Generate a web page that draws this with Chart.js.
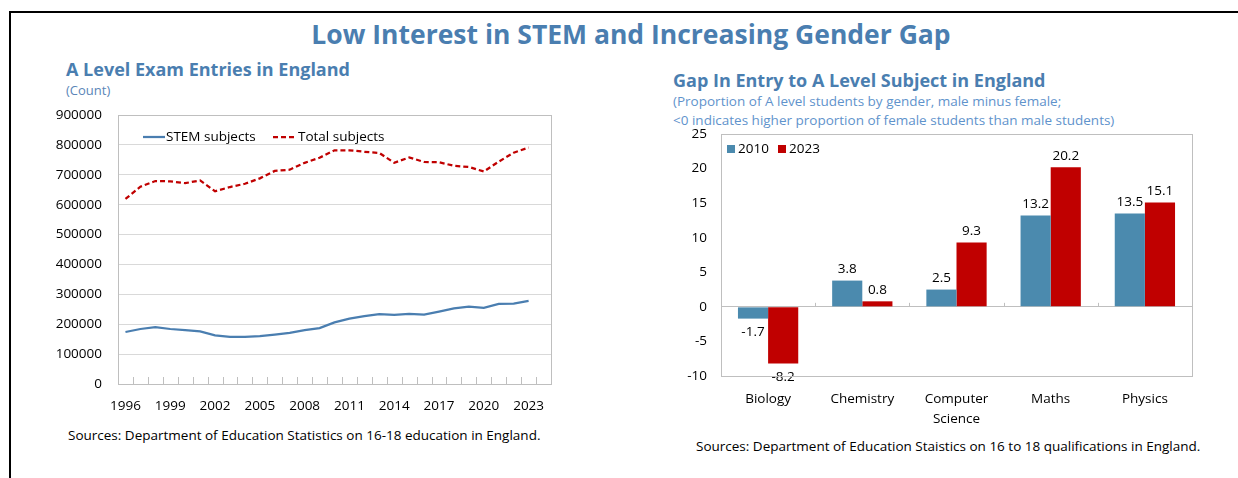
<!DOCTYPE html>
<html>
<head>
<meta charset="utf-8">
<script src="https://cdn.jsdelivr.net/npm/chart.js@4/dist/chart.umd.min.js"></script>
<style>
  html, body { margin:0; padding:0; background:#fff; }
  body { width:1238px; height:478px; position:relative; overflow:hidden; font-family:"Open Sans", "Noto Sans", sans-serif; }
  .frameTop { position:absolute; left:9px; top:11px; width:1229px; height:2px; background:#000; }
  .frameLeft { position:absolute; left:9px; top:11px; width:2px; height:467px; background:#000; }
  .t { position:absolute; white-space:nowrap; line-height:1; }
  #title { left:0; width:1262px; text-align:center; top:21px; font-size:26.5px; font-weight:700; color:#4a7eb0; }
  #lsub { left:66px; top:60px; font-size:18px; font-weight:700; color:#4a7eb0; }
  #lunit { left:66px; top:84px; font-size:13px; color:#5a86b8; }
  #rsub { left:673px; top:71px; font-size:18px; font-weight:700; color:#4a7eb0; }
  #rnote1 { left:673px; top:95px; font-size:13.5px; color:#5f93cc; }
  #rnote2 { left:673px; top:114px; font-size:13.5px; color:#5f93cc; }
  #lsrc { left:68px; top:429px; font-size:13.5px; color:#000; }
  #rsrc { left:696px; top:440px; font-size:13.5px; color:#000; }
  canvas { position:absolute; }
</style>
</head>
<body>
<div class="frameTop"></div>
<div class="frameLeft"></div>
<div class="t" id="title">Low Interest in STEM and Increasing Gender Gap</div>
<div class="t" id="lsub">A Level Exam Entries in England</div>
<div class="t" id="lunit">(Count)</div>
<div class="t" id="rsub">Gap In Entry to A Level Subject in England</div>
<div class="t" id="rnote1">(Proportion of A level students by gender, male minus female;</div>
<div class="t" id="rnote2">&lt;0 indicates higher proportion of female students than male students)</div>
<div class="t" id="lsrc">Sources: Department of Education Statistics on 16-18 education in England.</div>
<div class="t" id="rsrc">Sources: Department of Education Staistics on 16 to 18 qualifications in England.</div>
<canvas id="lineChart" width="600" height="330" style="left:0;top:100px;width:600px;height:330px;"></canvas>
<canvas id="barChart" width="600" height="310" style="left:620px;top:120px;width:600px;height:310px;"></canvas>
<script>
// ---- Left chart data ----
const years = ['1996','1997','1998','1999','2000','2001','2002','2003','2004','2005','2006','2007','2008','2009','2010','2011','2012','2013','2014','2015','2016','2017','2018','2019','2020','2021','2022','2023',''];
const stemEntries = [174000,184000,190000,184000,180000,176000,163000,158000,158000,160000,165000,171000,180000,187000,206000,219000,227000,234000,231000,235000,232000,242000,253000,259000,255000,268000,269000,278000];
const totalEntries = [619000,660000,679000,678000,672000,681000,645000,659000,670000,688000,713000,717000,740000,757000,782000,782000,777000,773000,740000,758000,743000,742000,730000,726000,711000,744000,774000,791000];
const lineYTicks = [0,100000,200000,300000,400000,500000,600000,700000,800000,900000];

// ---- Right chart data ----
const subjects = ['Biology','Chemistry',['Computer','Science'],'Maths','Physics'];
const gap2010 = [-1.7,3.8,2.5,13.2,13.5];
const gap2023 = [-8.2,0.8,9.3,20.2,15.1];
const barYTicks = [-10,-5,0,5,10,15,20,25];

const FONT = '"Open Sans", "Noto Sans", sans-serif';
const BLUE_LINE = '#4a7eb0';
const RED = '#c00000';
const BAR_BLUE = '#4b8aae';
const FRAME = '#bfbfbf';

Chart.defaults.font.family = FONT;
Chart.defaults.font.size = 13;
Chart.defaults.color = '#000';
Chart.defaults.animation = false;

// frame + inward category ticks
const framePlugin = {
  id: 'frame',
  afterDraw(chart, args, opts) {
    const {ctx, chartArea:a, scales} = chart;
    ctx.save();
    ctx.strokeStyle = FRAME;
    ctx.lineWidth = 1;
    ctx.strokeRect(Math.round(a.left)+0.5, Math.round(a.top)+0.5, Math.round(a.right-a.left), Math.round(a.bottom-a.top));
    const x = scales.x;
    const baseY = opts.baseY === 'zero' ? scales.y.getPixelForValue(0) : a.bottom;
    const n = x.ticks.length;
    const half = (x.getPixelForValue(1) - x.getPixelForValue(0)) / 2;
    ctx.beginPath();
    for (let i = 0; i <= n; i++) {
      const px = Math.round(x.getPixelForValue(i) - half) + 0.5;
      ctx.moveTo(px, baseY);
      ctx.lineTo(px, baseY - opts.len);
    }
    ctx.stroke();
    ctx.restore();
  }
};

// left legend inside plot
const lineLegend = {
  id: 'lineLegend',
  afterDraw(chart) {
    const {ctx, chartArea:a} = chart;
    const y = a.top + 22;
    ctx.save();
    ctx.font = '13.5px ' + FONT;
    ctx.textBaseline = 'middle';
    ctx.fillStyle = '#000';
    let x = a.left + 25;
    ctx.strokeStyle = BLUE_LINE; ctx.lineWidth = 2.25;
    ctx.beginPath(); ctx.moveTo(x, y); ctx.lineTo(x + 22, y); ctx.stroke();
    ctx.fillText(chart.data.datasets[0].label, x + 23, y);
    x = a.left + 155;
    ctx.strokeStyle = RED; ctx.setLineDash([5,3]);
    ctx.beginPath(); ctx.moveTo(x, y); ctx.lineTo(x + 24, y); ctx.stroke();
    ctx.setLineDash([]);
    ctx.fillText(chart.data.datasets[1].label, x + 25, y);
    ctx.restore();
  }
};

function fixY(width) {
  return function (s) { s.width = width; s.paddingTop = 0; s.paddingBottom = 0; };
}

new Chart(document.getElementById('lineChart'), {
  type: 'line',
  data: {
    labels: years,
    datasets: [
      { label: 'STEM subjects', data: stemEntries, borderColor: BLUE_LINE, borderWidth: 2.25, pointRadius: 0, tension: 0, fill: false },
      { label: 'Total subjects', data: totalEntries, borderColor: RED, borderWidth: 2.25, borderDash: [5,3], pointRadius: 0, tension: 0, fill: false }
    ]
  },
  options: {
    responsive: false, devicePixelRatio: 1,
    layout: { padding: { top: 15, right: 49, left: 0, bottom: 0 } },
    plugins: { legend: { display: false }, tooltip: { enabled: false }, frame: { len: 7, baseY: 'bottom' } },
    scales: {
      x: {
        type: 'category', offset: true,
        grid: { display: false, drawTicks: false },
        border: { display: false },
        ticks: { autoSkip: false, maxRotation: 0, padding: 14, font: { size: 13.5 },
          callback(v, i) { return (i % 3 === 0 && years[i]) ? years[i] : ''; } },
        afterFit(s) { s.height = 46; s.paddingLeft = 0; s.paddingRight = 0; }
      },
      y: {
        min: 0, max: 900000,
        afterBuildTicks(s) { s.ticks = lineYTicks.map(v => ({ value: v })); },
        grid: { color: '#d9d9d9', drawTicks: false },
        border: { display: false },
        ticks: { padding: 16, font: { size: 13.5 }, callback: v => String(v) },
        afterFit: fixY(118)
      }
    }
  },
  plugins: [framePlugin, lineLegend]
});

// bar value labels + legend
const barLabels = {
  id: 'barLabels',
  afterDatasetsDraw(chart) {
    const {ctx} = chart;
    ctx.save();
    ctx.font = '13.5px ' + FONT;
    ctx.fillStyle = '#000';
    ctx.textAlign = 'center';
    ctx.textBaseline = 'middle';
    chart.data.datasets.forEach((ds, di) => {
      chart.getDatasetMeta(di).data.forEach((bar, i) => {
        const v = ds.data[i];
        const y = v >= 0 ? bar.y - 11 : bar.y + 14;
        ctx.fillText(v.toFixed(1), bar.x, y);
      });
    });
    ctx.restore();
  },
  afterDraw(chart) {
    const {ctx, chartArea:a} = chart;
    const y = a.top + 15;
    ctx.save();
    ctx.font = '13.5px ' + FONT;
    ctx.textBaseline = 'middle';
    const items = [[chart.data.datasets[0], a.left + 6], [chart.data.datasets[1], a.left + 57]];
    items.forEach(([ds, x]) => {
      ctx.fillStyle = ds.backgroundColor;
      ctx.fillRect(x, y - 4, 8, 8);
      ctx.fillStyle = '#000';
      ctx.fillText(ds.label, x + 11, y);
    });
    ctx.restore();
  }
};

new Chart(document.getElementById('barChart'), {
  type: 'bar',
  data: {
    labels: subjects,
    datasets: [
      { label: '2010', data: gap2010, backgroundColor: BAR_BLUE, borderWidth: 0 },
      { label: '2023', data: gap2023, backgroundColor: RED, borderWidth: 0 }
    ]
  },
  options: {
    responsive: false, devicePixelRatio: 1,
    layout: { padding: { top: 14, right: 28, left: 0, bottom: 0 } },
    datasets: { bar: { categoryPercentage: 0.64, barPercentage: 1.0 } },
    plugins: { legend: { display: false }, tooltip: { enabled: false }, frame: { len: 4, baseY: 'zero' } },
    scales: {
      x: {
        grid: { display: false, drawTicks: false },
        border: { display: false },
        ticks: { maxRotation: 0, padding: 14, font: { size: 13.5, lineHeight: 1.42 } },
        afterFit(s) { s.height = 54; s.paddingLeft = 0; s.paddingRight = 0; }
      },
      y: {
        min: -10, max: 25,
        afterBuildTicks(s) { s.ticks = barYTicks.map(v => ({ value: v })); },
        grid: { color: c => (c.tick && c.tick.value === 0) ? FRAME : 'rgba(0,0,0,0)', drawTicks: false },
        border: { display: false },
        ticks: { padding: 14, font: { size: 13.5 } },
        afterFit: fixY(101)
      }
    }
  },
  plugins: [framePlugin, barLabels]
});
</script>
</body>
</html>
